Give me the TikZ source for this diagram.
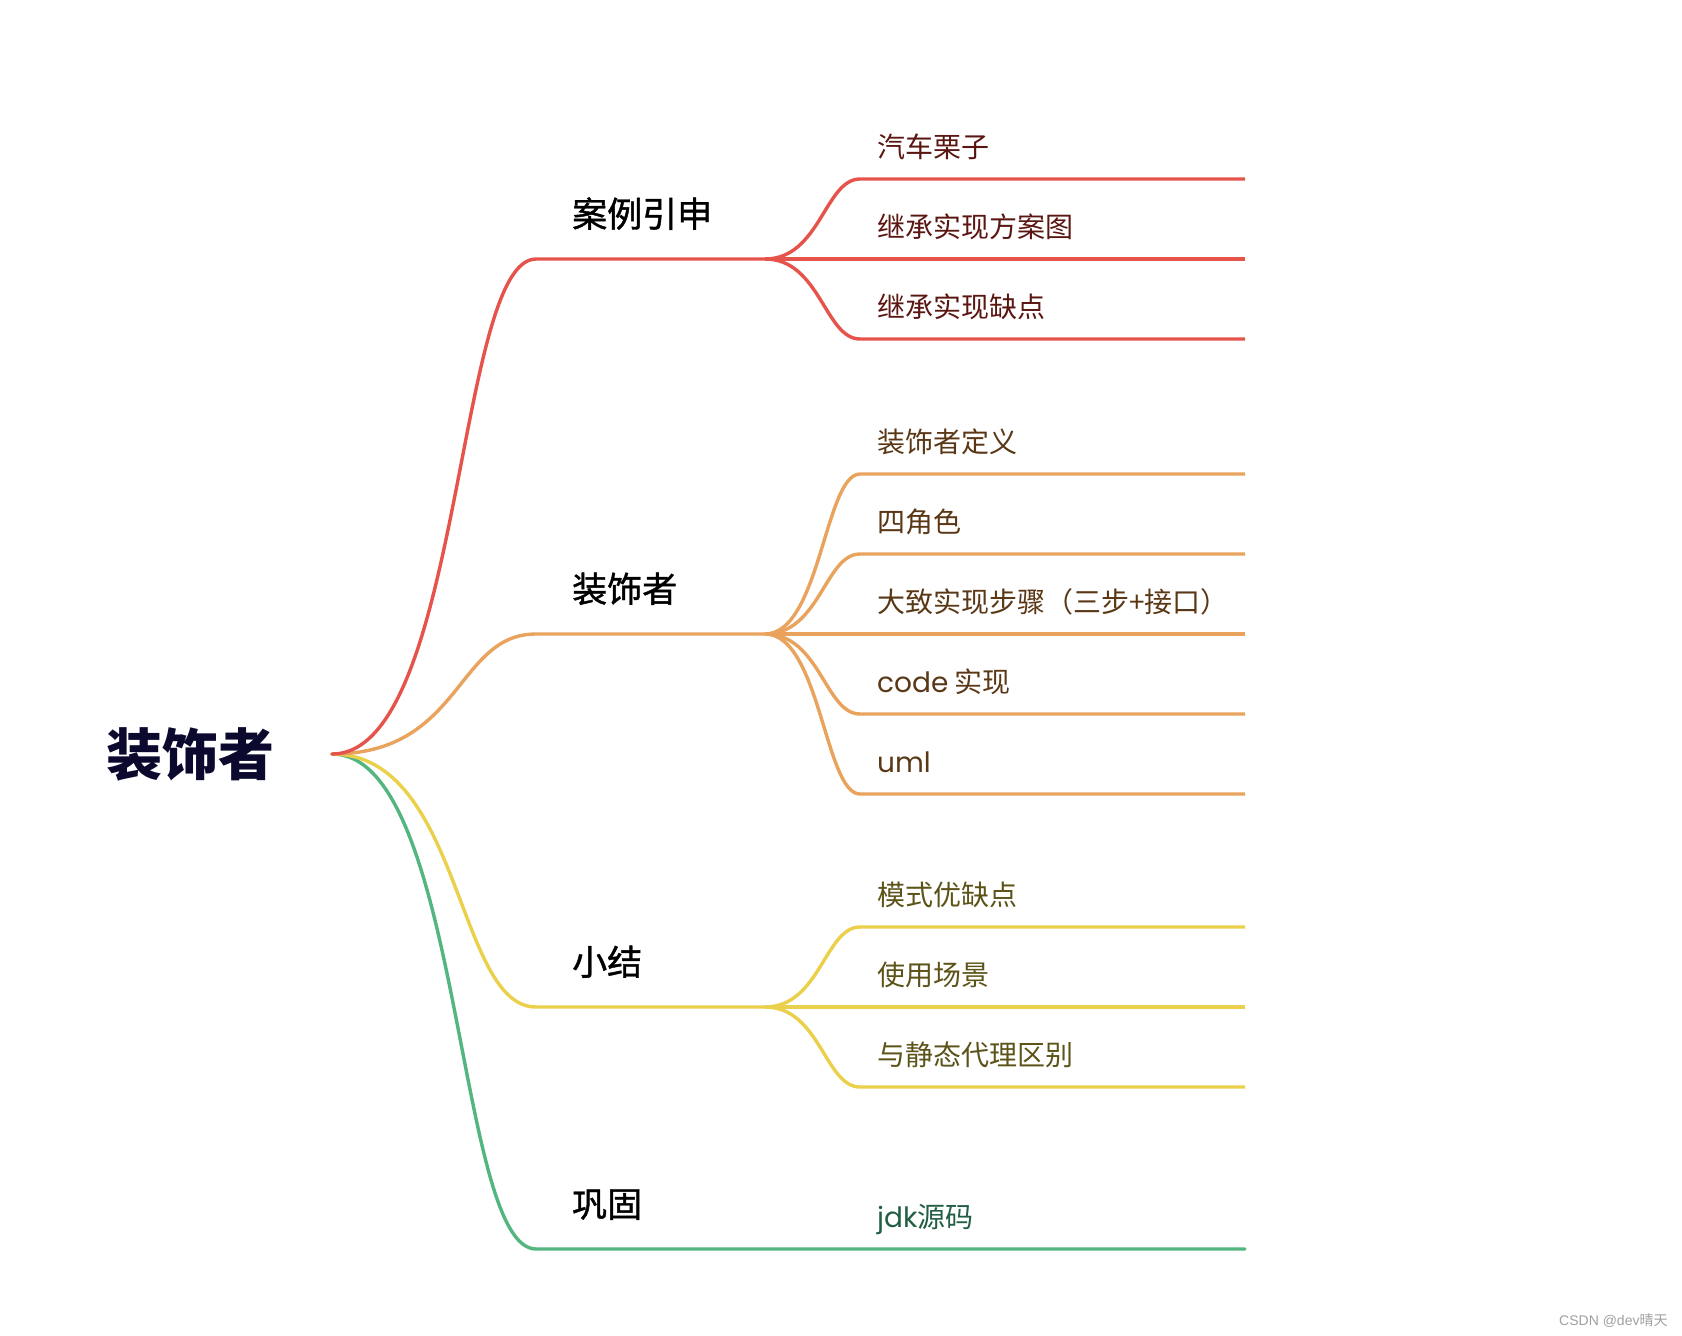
\documentclass[tikz,border=0pt]{standalone}
\usepackage{fontspec}
\setmainfont{Noto Sans CJK SC}
\newfontfamily\medfont[FakeBold=1.2]{Noto Sans CJK SC}
\newfontfamily\latfont{Poppins}
\newfontfamily\wmfont{Liberation Sans}
\newcommand\lat[1]{{\latfont #1}}
\definecolor{cred}{HTML}{E5534B}
\definecolor{corange}{HTML}{E9A35C}
\definecolor{cyellow}{HTML}{EBD04B}
\definecolor{cgreen}{HTML}{52B67E}
\definecolor{tred}{HTML}{5A1712}
\definecolor{torange}{HTML}{5A3816}
\definecolor{tyellow}{HTML}{5C5319}
\definecolor{tgreen}{HTML}{215E43}
\definecolor{troot}{HTML}{0B0A2E}
\definecolor{twm}{HTML}{A0A0A0}
\tikzset{
  conn/.style={line width=3.4pt},
  lbl/.style={anchor=base west, inner sep=0pt, font=\fontsize{28}{28}\selectfont},
  blbl/.style={anchor=base west, inner sep=0pt, font=\fontsize{35}{35}\selectfont\medfont, text=black},
  main/.style={conn, line cap=round},
}
\begin{document}
\begin{tikzpicture}[x=1pt,y=-1pt]
\useasboundingbox[fill=white] (0,0) rectangle (1682,1336);
% root
\node[anchor=west, inner sep=0pt, font=\fontsize{56}{56}\selectfont\bfseries, text=troot] (root) at (106,754) {装饰者};
\coordinate (r0) at (332,754);
% branch points
\coordinate (b1) at (536,259);  \coordinate (j1) at (765,259);
\coordinate (b2) at (536,634);  \coordinate (j2) at (765,634);
\coordinate (b3) at (536,1007); \coordinate (j3) at (765,1007);
\coordinate (b4) at (536,1249); \coordinate (e41) at (1245,1249);
% main connectors
\draw[main, cgreen] (r0) .. controls +(130,0) and +(-80,0) .. (b4) -- (e41);
\draw[main, cyellow] (r0) .. controls +(130,0) and +(-80,0) .. (b3) -- (j3);
\draw[main, corange] (r0) .. controls +(130,0) and +(-80,0) .. (b2) -- (j2);
\draw[main, cred] (r0) .. controls +(130,0) and +(-80,0) .. (b1) -- (j1);
% branch labels
\node[blbl] (l1) at (572,227) {案例引申};
\node[blbl] (l2) at (572,602) {装饰者};
\node[blbl] (l3) at (572,975) {小结};
\node[blbl] (l4) at (572,1217) {巩固};
% red children
\foreach \y/\n in {179/11,339/13}{
  \coordinate (s\n) at (860,\y); \coordinate (e\n) at (1245,\y);
  \draw[conn, cred] (j1) .. controls +(55,0) and +(-35,0) .. (s\n) -- (e\n);
}
\coordinate (e12) at (1245,259);
\draw[conn, cred] (j1) -- (e12);
\node[lbl, text=tred] (t11) at (877,157) {汽车栗子};
\node[lbl, text=tred] (t12) at (877,237) {继承实现方案图};
\node[lbl, text=tred] (t13) at (877,317) {继承实现缺点};
% orange children
\foreach \y/\n in {474/21,554/22,714/24,794/25}{
  \coordinate (s\n) at (860,\y); \coordinate (e\n) at (1245,\y);
  \draw[conn, corange] (j2) .. controls +(55,0) and +(-35,0) .. (s\n) -- (e\n);
}
\coordinate (e23) at (1245,634);
\draw[conn, corange] (j2) -- (e23);
\node[lbl, text=torange] (t21) at (877,452) {装饰者定义};
\node[lbl, text=torange] (t22) at (877,532) {四角色};
\node[lbl, text=torange] (t23) at (877,612) {大致实现步骤（三步+接口）};
\node[lbl, text=torange] (t24) at (877,692) {\lat{code} 实现};
\node[lbl, text=torange] (t25) at (877,772) {\lat{uml}};
% yellow children
\foreach \y/\n in {927/31,1087/33}{
  \coordinate (s\n) at (860,\y); \coordinate (e\n) at (1245,\y);
  \draw[conn, cyellow] (j3) .. controls +(55,0) and +(-35,0) .. (s\n) -- (e\n);
}
\coordinate (e32) at (1245,1007);
\draw[conn, cyellow] (j3) -- (e32);
\node[lbl, text=tyellow] (t31) at (877,905) {模式优缺点};
\node[lbl, text=tyellow] (t32) at (877,985) {使用场景};
\node[lbl, text=tyellow] (t33) at (877,1065) {与静态代理区别};
% green child
\node[lbl, text=tgreen] (t41) at (877,1227) {\lat{jdk}源码};
% watermark
\node[anchor=base west, inner sep=0pt, font=\fontsize{14}{14}\selectfont, text=twm] (wm) at (1559,1325) {{\wmfont CSDN @dev}晴天};
\end{tikzpicture}
\end{document}
